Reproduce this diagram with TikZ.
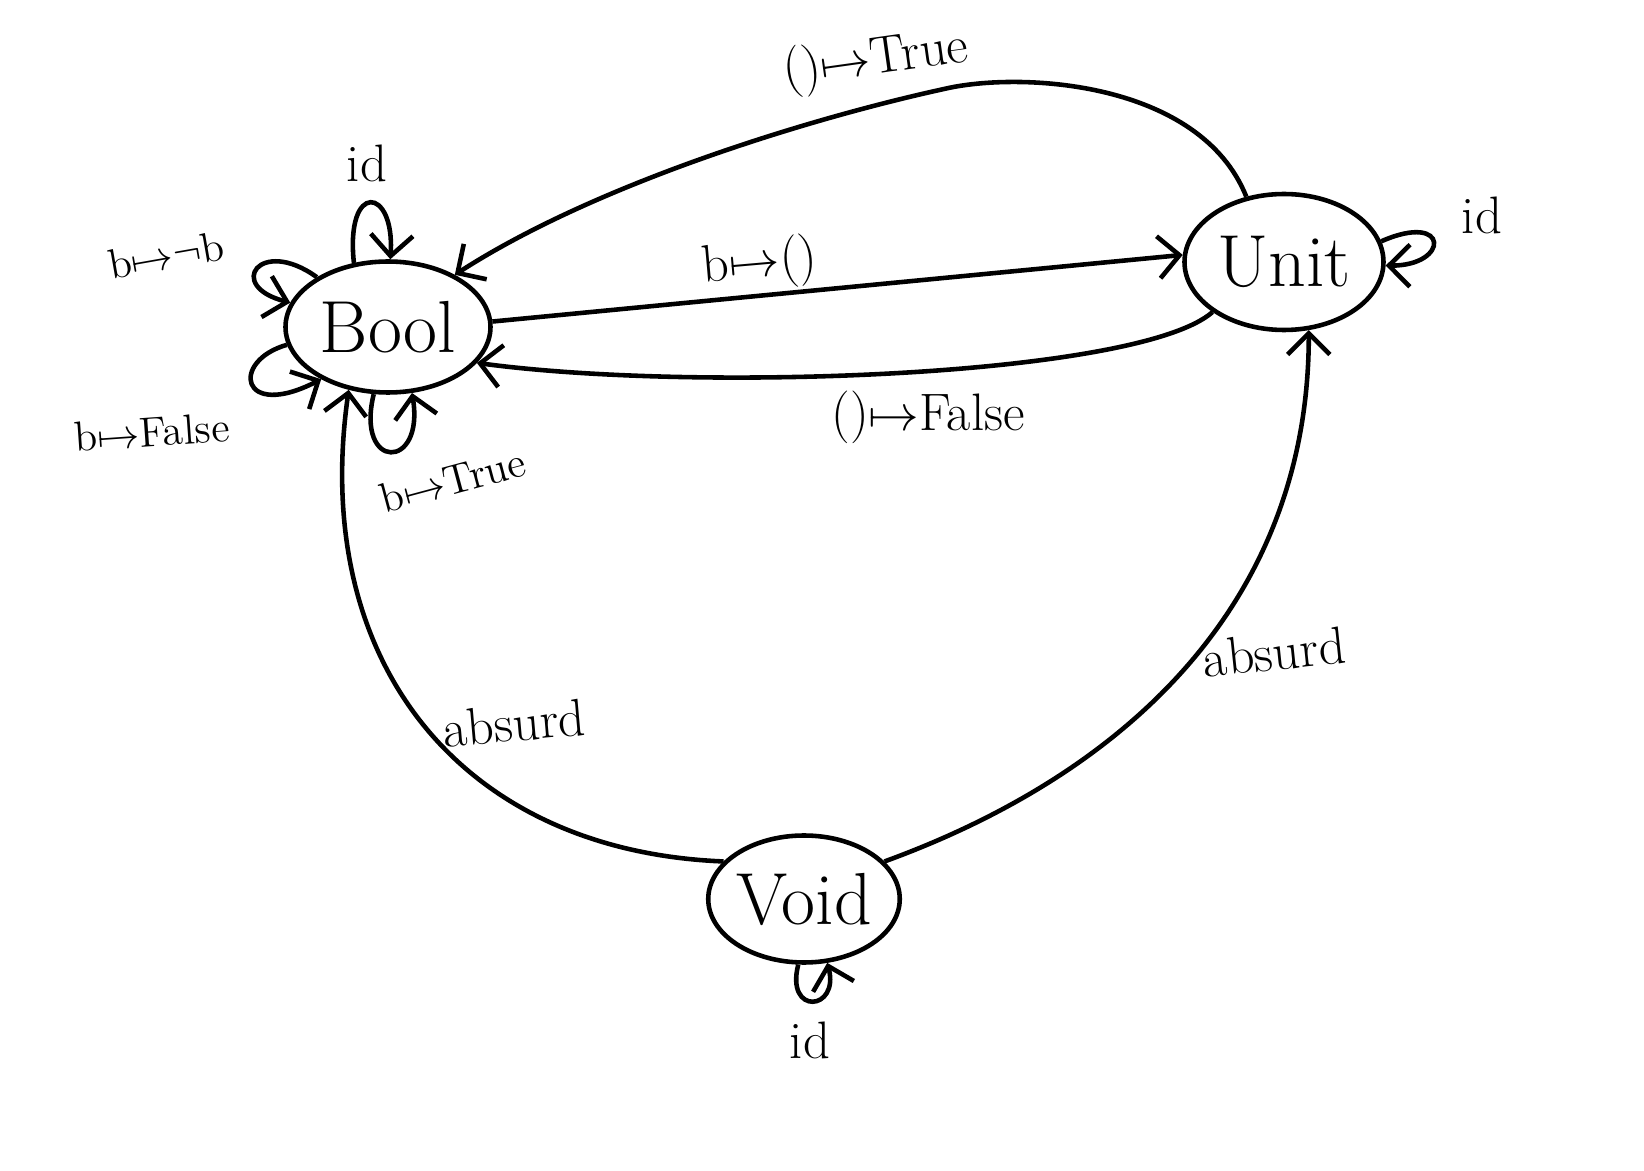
\documentclass[tikz,border=0pt]{standalone}
\usetikzlibrary{shapes.geometric,arrows.meta}

\begin{document}
\begin{tikzpicture}[
  every node/.style={font=\fontsize{15}{18}\selectfont},
  obj/.style={ellipse,draw,line width=1.3pt,inner sep=0pt,font=\fontsize{21}{25}\selectfont},
  arr/.style={line width=1.3pt,-{Straight Barb[length=6pt,width=12pt]}},
  small/.style={font=\fontsize{12}{14}\selectfont}]
\useasboundingbox (0,0) rectangle (16.44,11.71);

% Objects
\node[obj,minimum width=2.05cm,minimum height=1.31cm] (bool) at (3.88,8.44) {Bool};
\node[obj,minimum width=1.99cm,minimum height=1.36cm] (unit) at (12.84,9.09) {Unit};
\node[obj,minimum width=1.78cm,minimum height=1.27cm] (void) at (8.04,2.72) {Void};

% Arrows between Bool and Unit
\draw[arr] (unit.120) .. controls (12.0,10.9) and (10.2,11.0) .. (9.44,10.82)
  .. controls (8.2,10.55) and (6.0,9.9) .. (bool.38);
\draw[arr] (bool.3) -- (unit.176);
\draw[arr] (unit.215) .. controls (11.4,7.95) and (7.0,7.78) .. (bool.-22);

% Arrows out of Void
\draw[arr] (void.155) .. controls (4.6,3.2) and (3.1,5.1) .. (bool.238);
\draw[arr] (void.25) to[out=20,in=-90] (unit.-70);

% Loops
\draw[arr] (bool.118) .. controls (3.45,9.9) and (3.95,9.85) .. (bool.88);
\draw[arr] (bool.145) .. controls (2.6,9.35) and (2.25,8.85) .. (bool.166);
\draw[arr] (bool.190) .. controls (2.3,8.1) and (2.4,7.5) .. (bool.218);
\draw[arr] (bool.258) .. controls (3.55,7.0) and (4.25,7.0) .. (bool.290);
\draw[arr] (unit.12) .. controls (14.5,9.6) and (14.5,9.05) .. (unit.-2);
\draw[arr] (void.265) .. controls (7.85,1.55) and (8.4,1.6) .. (void.290);

% Labels
\node (lidb) at (3.67,10.08) {id};
\node[small,rotate=10] (lnot) at (1.66,9.16) {b$\mapsto${}$\neg$b};
\node[small,rotate=4] (lfalse) at (1.52,7.39) {b$\mapsto$False};
\node[small,rotate=15] (ltrue) at (4.53,6.91) {b$\mapsto$True};
\node[rotate=8] (lutrue) at (8.76,11.10) {()$\mapsto$True};
\node[rotate=5] (lbu) at (7.60,9.07) {b$\mapsto$()};
\node (lufalse) at (9.28,7.54) {()$\mapsto$False};
\node[rotate=5] (labl) at (5.14,4.48) {absurd};
\node[rotate=6] (labr) at (12.74,5.19) {absurd};
\node (lidu) at (14.82,9.56) {id};
\node (lidv) at (8.10,1.31) {id};
\end{tikzpicture}
\end{document}
